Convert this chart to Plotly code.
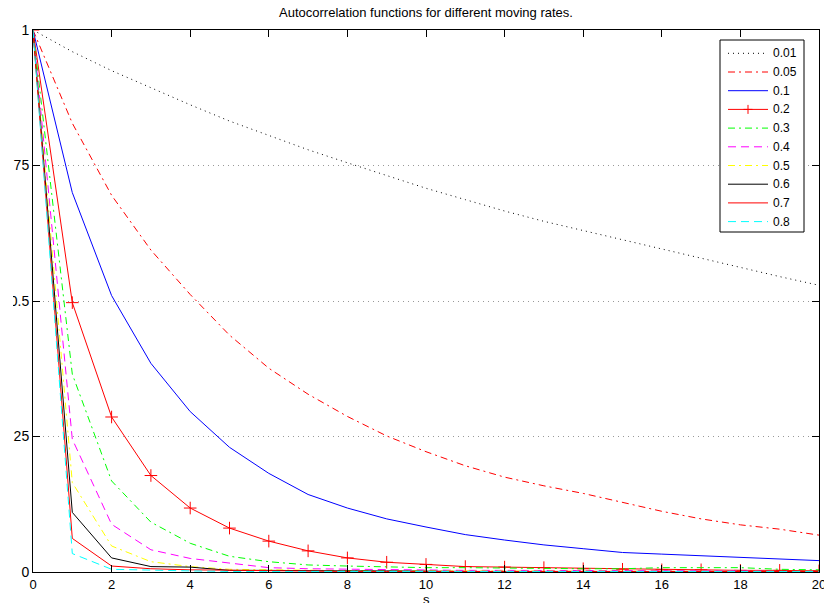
import plotly.graph_objects as go

# Lag values and autocorrelation estimates for each moving rate
lags = list(range(21))
rates = ["0.01", "0.05", "0.1", "0.2", "0.3", "0.4", "0.5", "0.6", "0.7", "0.8"]

acf_001 = [1.0, 0.96, 0.925, 0.893, 0.862, 0.832, 0.805, 0.779, 0.755, 0.731, 0.708,
           0.687, 0.666, 0.647, 0.630, 0.612, 0.595, 0.578, 0.561, 0.545, 0.529]
acf_005 = [1.0, 0.828, 0.695, 0.594, 0.512, 0.437, 0.376, 0.328, 0.287, 0.251, 0.222,
           0.196, 0.175, 0.159, 0.145, 0.128, 0.112, 0.098, 0.087, 0.079, 0.068]
acf_01 = [1.0, 0.70, 0.51, 0.385, 0.296, 0.230, 0.182, 0.143, 0.118, 0.098, 0.083,
          0.069, 0.059, 0.050, 0.043, 0.036, 0.033, 0.030, 0.027, 0.024, 0.021]
acf_02 = [1.0, 0.497, 0.286, 0.178, 0.118, 0.081, 0.057, 0.039, 0.026, 0.018, 0.014,
          0.010, 0.009, 0.008, 0.006, 0.005, 0.004, 0.004, 0.003, 0.003, 0.002]
acf_03 = [1.0, 0.365, 0.168, 0.092, 0.053, 0.029, 0.019, 0.013, 0.011, 0.009, 0.008,
          0.008, 0.007, 0.007, 0.006, 0.006, 0.008, 0.008, 0.008, 0.005, 0.004]
acf_04 = [1.0, 0.245, 0.088, 0.041, 0.025, 0.016, 0.008, 0.006, 0.005, 0.004, 0.004,
          0.003, 0.003, 0.003, 0.002, 0.002, 0.002, 0.002, 0.002, 0.001, 0.001]
acf_05 = [1.0, 0.165, 0.048, 0.019, 0.010, 0.005, 0.004, 0.003, 0.003, 0.002, 0.002,
          0.002, 0.002, 0.001, 0.001, 0.001, 0.001, 0.001, 0.001, 0.001, 0.001]
acf_06 = [1.0, 0.110, 0.026, 0.010, 0.009, 0.003, 0.003, 0.002, 0.002, 0.002, 0.001,
          0.001, 0.001, 0.001, 0.001, 0.001, 0.001, 0.001, 0.001, 0.001, 0.001]
acf_07 = [1.0, 0.062, 0.011, 0.006, 0.004, 0.003, 0.002, 0.002, 0.001, 0.001, 0.001,
          0.001, 0.001, 0.001, 0.001, 0.001, 0.001, 0.001, 0.001, 0.001, 0.001]
acf_08 = [1.0, 0.034, 0.005, 0.003, 0.002, 0.001, 0.001, 0.001, 0.001, 0.001, 0.001,
          0.001, 0.001, 0.001, 0.001, 0.001, 0.001, 0.001, 0.001, 0.001, 0.001]

y_ticks = [0, 0.25, 0.5, 0.75, 1]
y_ticktext = ["0", "0.25", "0.5", "0.75", "1"]
x_ticks = list(range(0, 21, 2))

DOT = "1px,4px"
DASHDOT = "7px,4px,2px,4px"
DASHED = "8px,5px"

series = [
    (acf_001, "black", DOT, None),
    (acf_005, "#ff0000", DASHDOT, None),
    (acf_01, "#0000ff", "solid", None),
    (acf_02, "#ff0000", "solid", "cross-thin"),
    (acf_03, "#00ff00", DASHDOT, None),
    (acf_04, "#ff00ff", DASHED, None),
    (acf_05, "#ffff00", DASHDOT, None),
    (acf_06, "black", "solid", None),
    (acf_07, "#ff0000", "solid", None),
    (acf_08, "#00ffff", DASHED, None),
]

# Plot-area geometry in pixels, used to place the boxed legend
W, H = 824, 603
ML, MR, MT, MB = 33, 5, 30, 31
PW, PH = W - ML - MR, H - MT - MB


def px_x(x):
    return (x - ML) / PW


def px_y(y):
    return (H - MB - y) / PH


fig = go.Figure()
for name, (vals, color, dash, symbol) in zip(rates, series):
    kw = dict(mode="lines")
    if symbol:
        kw = dict(mode="lines+markers",
                  marker=dict(symbol=symbol, size=9, color=color,
                              line=dict(color=color, width=1)))
    fig.add_trace(go.Scatter(x=lags, y=vals, name=name, showlegend=False,
                             line=dict(color=color, width=1, dash=dash), **kw))

font_family = "Arial, Liberation Sans, Helvetica, sans-serif"

# Legend: framed box with a 40 px line sample and label per rate
LEG_L, LEG_R, LEG_T, LEG_B = 720, 804, 40, 232
ROW0, ROW_STEP = 53.3, 18.7
shapes = [dict(type="rect", xref="paper", yref="paper",
               x0=px_x(LEG_L), x1=px_x(LEG_R), y0=px_y(LEG_B), y1=px_y(LEG_T),
               fillcolor="white", line=dict(color="black", width=1),
               layer="above")]
annotations = []
for i, (name, (vals, color, dash, symbol)) in enumerate(zip(rates, series)):
    yy = ROW0 + i * ROW_STEP
    shapes.append(dict(type="line", xref="paper", yref="paper",
                       x0=px_x(728), x1=px_x(768), y0=px_y(yy), y1=px_y(yy),
                       line=dict(color=color, width=1, dash=dash), layer="above"))
    if symbol:
        cx = 748
        shapes.append(dict(type="line", xref="paper", yref="paper",
                           x0=px_x(cx - 4.5), x1=px_x(cx + 4.5),
                           y0=px_y(yy), y1=px_y(yy),
                           line=dict(color=color, width=1), layer="above"))
        shapes.append(dict(type="line", xref="paper", yref="paper",
                           x0=px_x(cx), x1=px_x(cx),
                           y0=px_y(yy - 4.5), y1=px_y(yy + 4.5),
                           line=dict(color=color, width=1), layer="above"))
    annotations.append(dict(text=name, xref="paper", yref="paper",
                            x=px_x(771), y=px_y(yy), xanchor="left",
                            yanchor="middle", showarrow=False,
                            font=dict(size=12, color="black")))

# x-axis title sits at the bottom edge of the page
annotations.append(dict(text="s", xref="paper", yref="paper",
                        x=0.5, y=px_y(599), xanchor="center", yanchor="middle",
                        showarrow=False, font=dict(size=13, color="black")))

# the left strip of the page is blank; tick labels run under it
shapes.append(dict(type="rect", xref="paper", yref="paper",
                   x0=px_x(0), x1=px_x(13), y0=-0.2, y1=1.1,
                   fillcolor="white", line=dict(width=0), layer="above"))

fig.update_layout(
    width=W, height=H,
    margin=dict(l=ML, r=MR, t=MT, b=MB, autoexpand=False),
    paper_bgcolor="white", plot_bgcolor="white",
    font=dict(family=font_family, size=13, color="black"),
    title=dict(text="Autocorrelation functions for different moving rates.",
               x=0.5, xref="paper", y=1 - 12 / H, yref="container",
               yanchor="middle", xanchor="center",
               font=dict(size=13, color="black")),
    showlegend=False,
    shapes=shapes,
    annotations=annotations,
)

fig.update_xaxes(
    range=[0, 20], tickmode="array", tickvals=x_ticks,
    ticks="inside", ticklen=7, tickcolor="black", tickwidth=1,
    showline=True, linecolor="black", linewidth=1, mirror="ticks",
    showgrid=False, zeroline=False, automargin=False,
    ticklabeloverflow="allow",
    tickfont=dict(size=13),
)
fig.update_yaxes(
    range=[0, 1], tickmode="array", tickvals=y_ticks, ticktext=y_ticktext,
    ticks="inside", ticklen=7, tickcolor="black", tickwidth=1,
    showline=True, linecolor="black", linewidth=1, mirror="ticks",
    showgrid=True, gridcolor="#999999", gridwidth=1, griddash="1px,4px",
    zeroline=False, automargin=False, ticklabeloverflow="allow",
    tickfont=dict(size=14),
)

fig.write_html("out.html")
